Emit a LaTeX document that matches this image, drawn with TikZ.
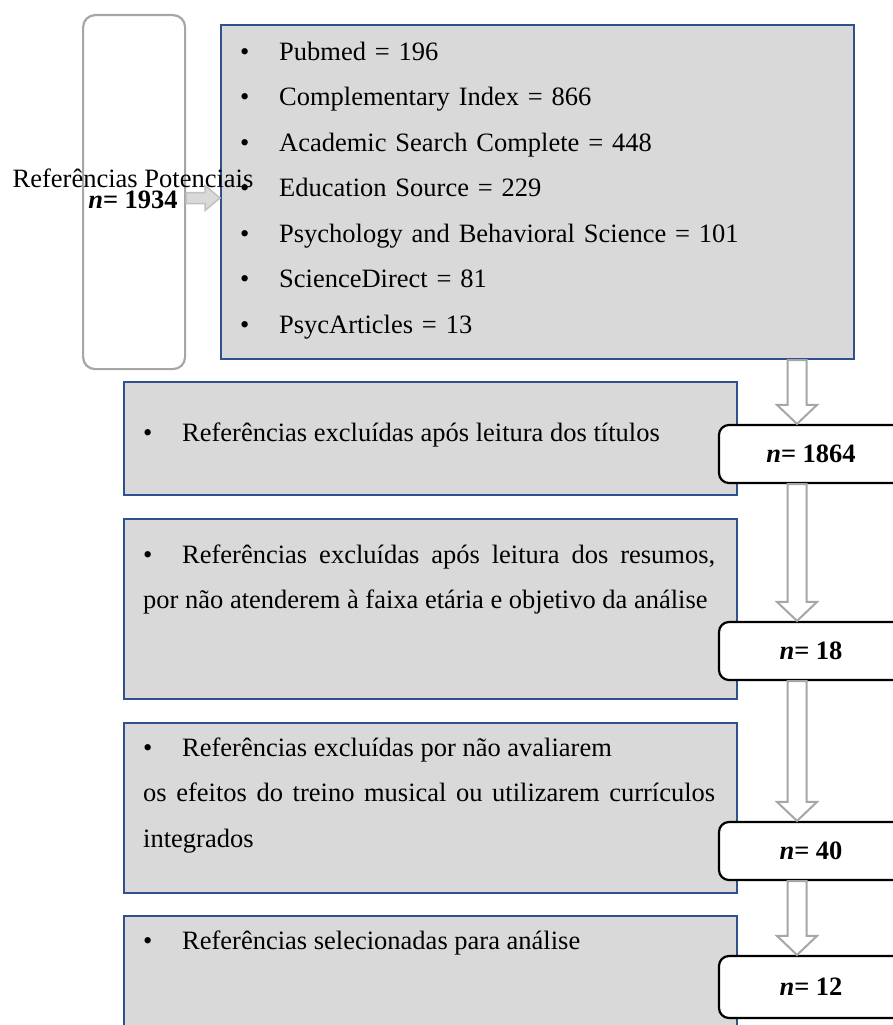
\documentclass[tikz,border=0pt]{standalone}
\usepackage{fontspec}
\setmainfont{Liberation Serif}
\usetikzlibrary{calc}
\definecolor{boxfill}{HTML}{D9D9D9}
\definecolor{boxborder}{HTML}{2F528F}
\definecolor{arrowborder}{HTML}{A6A6A6}
\definecolor{arrowfill}{HTML}{D9D9D9}
\definecolor{potborder}{HTML}{A6A6A6}
\newcommand{\bulitem}{\makebox[39pt][l]{\textbullet}}
\newcommand{\nval}[1]{\textbf{\textit{n}= #1}}

\begin{document}
\begin{tikzpicture}[
    x=1pt, y=-1pt,
    greybox/.style={draw=boxborder, fill=boxfill, line width=2pt, anchor=north west, inner sep=0pt},
    potbox/.style={draw=potborder, fill=white, line width=2.2pt, rounded corners=12pt,
                   anchor=north west, inner sep=0pt},
    nbox/.style={draw=black, fill=white, line width=2.2pt, rounded corners=10pt, minimum width=184pt,
                 minimum height=58pt, inner sep=0pt, font=\fontsize{26.5}{30}\selectfont},
    bodytext/.style={anchor=base west, inner sep=0pt, font=\fontsize{26.5}{45.5}\selectfont},
    downarrow/.style={draw=arrowborder, fill=white, line width=2pt},
    rightarrow/.style={draw=arrowborder!70, fill=arrowfill, line width=1.5pt},
]
\useasboundingbox (0,0) rectangle (893,1025);
\clip (0,0) rectangle (893,1025);

% ============================================================
% Grey boxes
% ============================================================
\node[greybox, minimum width=633pt, minimum height=334pt] (bases) at (220,24) {};
\node[greybox, minimum width=613pt, minimum height=113pt] (titulos) at (123,381) {};
\node[greybox, minimum width=613pt, minimum height=180pt] (resumos) at (123,518) {};
\node[greybox, minimum width=613pt, minimum height=170pt] (criterios) at (123,722) {};
\node[greybox, minimum width=613pt, minimum height=130pt] (selecao) at (123,915) {};

% Potential references
\node[potbox, minimum width=102pt, minimum height=354pt] (potencial) at (82,14) {};

% Counts
\node[nbox] (n1864) at (811,454) {\nval{1864}};
\node[nbox] (n18) at (811,651) {\nval{18}};
\node[nbox] (n40) at (811,851) {\nval{40}};
\node[nbox, minimum height=62pt] (n12) at (811,987) {\nval{12}};

% ============================================================
% Block arrows
% ============================================================
\coordinate (col) at (797,0);
\coordinate (arow) at (0,198);

\draw[rightarrow] let \p1=(potencial.east |- arow), \p2=(bases.west |- arow) in
    (\x1,\y1-5.5pt) -- (\x2-15pt,\y1-5.5pt) -- (\x2-15pt,\y1-12.5pt) -- (\x2,\y1)
    -- (\x2-15pt,\y1+12.5pt) -- (\x2-15pt,\y1+5.5pt) -- (\x1,\y1+5.5pt) -- cycle;

\draw[downarrow] let \p1=(bases.south -| col), \p2=(n1864.north -| col) in
    (\x1-9.5pt,\y1) -- (\x1-9.5pt,\y2+19pt) -- (\x1-20pt,\y2+19pt) -- (\x2,\y2)
    -- (\x1+20pt,\y2+19pt) -- (\x1+9.5pt,\y2+19pt) -- (\x1+9.5pt,\y1) -- cycle;
\draw[downarrow] let \p1=(n1864.south -| col), \p2=(n18.north -| col) in
    (\x1-9.5pt,\y1) -- (\x1-9.5pt,\y2+19pt) -- (\x1-20pt,\y2+19pt) -- (\x2,\y2)
    -- (\x1+20pt,\y2+19pt) -- (\x1+9.5pt,\y2+19pt) -- (\x1+9.5pt,\y1) -- cycle;
\draw[downarrow] let \p1=(n18.south -| col), \p2=(n40.north -| col) in
    (\x1-9.5pt,\y1) -- (\x1-9.5pt,\y2+19pt) -- (\x1-20pt,\y2+19pt) -- (\x2,\y2)
    -- (\x1+20pt,\y2+19pt) -- (\x1+9.5pt,\y2+19pt) -- (\x1+9.5pt,\y1) -- cycle;
\draw[downarrow] let \p1=(n40.south -| col), \p2=(n12.north -| col) in
    (\x1-9.5pt,\y1) -- (\x1-9.5pt,\y2+19pt) -- (\x1-20pt,\y2+19pt) -- (\x2,\y2)
    -- (\x1+20pt,\y2+19pt) -- (\x1+9.5pt,\y2+19pt) -- (\x1+9.5pt,\y1) -- cycle;

% ============================================================
% Texts
% ============================================================
\node[bodytext, text width=560pt, align=left] (lista) at (240,60) {%
  \bulitem Pubmed = 196\\
  \bulitem Complementary Index = 866\\
  \bulitem Academic Search Complete = 448\\
  \bulitem Education Source = 229\\
  \bulitem Psychology and Behavioral Science = 101\\
  \bulitem ScienceDirect = 81\\
  \bulitem PsycArticles = 13};

\node[bodytext] (titxt) at (143,441) {\bulitem Referências excluídas após leitura dos títulos};

\node[bodytext, text width=572pt, align=justify] (restxt) at (143,563) {%
  \bulitem Referências excluídas após leitura dos resumos,\linebreak
  por não atenderem à faixa etária e objetivo da análise};

\node[bodytext, text width=572pt, align=justify] (crittxt) at (143,756) {%
  \bulitem Referências excluídas por não avaliarem\\
  os efeitos do treino musical ou utilizarem currículos\linebreak
  integrados};

\node[bodytext] (seltxt) at (143,949) {\bulitem Referências selecionadas para análise};

\node[inner sep=0pt, align=center, font=\fontsize{26.5}{21}\selectfont] (pottxt) at (133,189)
    {Referências Potenciais\\\nval{1934}};

\end{tikzpicture}
\end{document}
